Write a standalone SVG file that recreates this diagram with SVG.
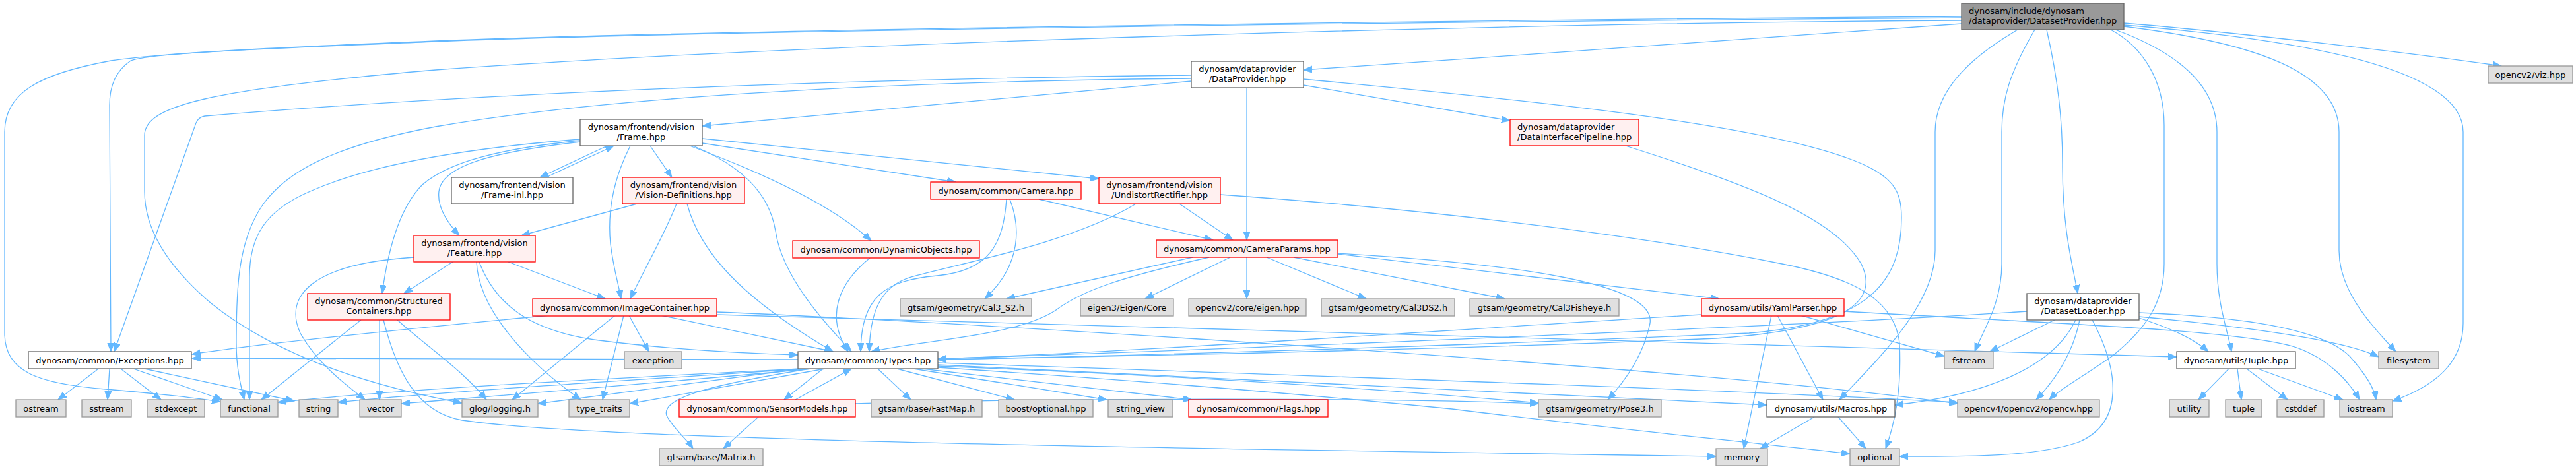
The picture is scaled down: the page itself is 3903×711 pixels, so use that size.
<svg xmlns="http://www.w3.org/2000/svg" width="3903" height="711" viewBox="0 0 3903 711">
<style>
text{font-family:"DejaVu Sans","Liberation Sans",sans-serif;font-size:13px;fill:#000}
.c{text-anchor:middle}
.w{fill:#fff;stroke:#666;stroke-width:1.3}
.r{fill:#fff0f0;stroke:#f00;stroke-width:1.3}
.g{fill:#e0e0e0;stroke:#999;stroke-width:1.3}
.k{fill:#999;stroke:#666;stroke-width:1.3}
#edges path{fill:none;stroke:#63b8ff;stroke-width:1.3;marker-end:url(#a)}
</style>
<defs>
<marker id="a" markerUnits="userSpaceOnUse" markerWidth="14" markerHeight="11" refX="13" refY="5" orient="auto"><path d="M0,0 L13,5 L0,10 z" fill="#63b8ff" stroke="#63b8ff" stroke-width="1"/></marker>
</defs>
<rect width="3903" height="711" fill="#fff"/>
<g id="edges">
<path d="M2972,36 C2600,60 2300,85 1975,106"/>
<path d="M2972,27 C2300,32 1100,45 660,63 C400,74 230,80 198,92 C175,108 166,130 166,160 L168,533"/>
<path d="M2972,25 C2300,30 1100,44 660,62 C420,72 250,80 168,92 C60,112 7,140 7,200 L7,505 C7,565 60,582 160,590 C230,596 290,602 334,609"/>
<path d="M2972,31 C2400,34 1300,60 660,106 C320,135 219,160 219,205 L219,290 C219,345 250,400 320,460 C420,540 560,585 700,611"/>
<path d="M3218,35 C3400,50 3650,80 3790,100"/>
<path d="M3198,45 C3245,70 3279,120 3279,190 L3279,400 C3279,460 3250,500 3200,540 C3150,575 3118,592 3105,606"/>
<path d="M3205,45 C3300,80 3359,130 3359,200 L3359,400 C3359,460 3375,500 3381,533"/>
<path d="M3218,40 C3420,65 3544,110 3544,200 L3544,380 C3544,440 3590,490 3630,533"/>
<path d="M3218,38 C3520,62 3732,110 3732,200 L3732,490 C3732,550 3690,585 3625,608"/>
<path d="M3057,45 C2980,90 2932,140 2932,200 L2932,380 C2932,460 2850,540 2787,606"/>
<path d="M3083,45 C3045,110 3033,150 3033,200 L3033,400 C3033,460 3005,500 2992,533"/>
<path d="M3101,45 C3118,120 3125,180 3125,250 C3125,350 3140,400 3148,445"/>
<path d="M1805,123 C1500,150 1250,175 1064,191"/>
<path d="M1805,114 C1400,118 800,135 310,176 C300,178 297,185 295,192 L173,533"/>
<path d="M1805,119 C1300,124 900,150 660,192 C500,222 430,262 395,315 C360,370 358,440 358,520 C358,560 365,585 370,606"/>
<path d="M1889,133 L1889,364"/>
<path d="M1975,129 L2288,183"/>
<path d="M1975,120 C2300,150 2650,185 2800,240 C2870,265 2881,290 2881,330 C2881,420 2840,490 2650,505 C2200,525 1700,540 1421,545"/>
<path d="M920,221 L818,269"/>
<path d="M827,269 L930,221"/>
<path d="M985,221 L1018,269"/>
<path d="M879,215 C750,230 670,250 665,290 C662,315 680,340 696,357"/>
<path d="M879,213 C760,225 680,245 640,280 C600,320 585,400 579,445"/>
<path d="M879,211 C700,225 560,250 470,290 C400,320 378,360 378,420 L378,606"/>
<path d="M955,221 C930,270 920,320 925,370 C930,410 937,430 941,453"/>
<path d="M1050,221 C1120,250 1165,290 1175,350 C1185,420 1250,490 1290,533"/>
<path d="M1064,217 L1448,276"/>
<path d="M1064,210 L1665,271"/>
<path d="M1045,221 C1150,260 1260,310 1320,365"/>
<path d="M965,309 L790,357"/>
<path d="M1025,309 C1005,360 975,410 955,453"/>
<path d="M1041,309 C1060,380 1120,450 1262,533"/>
<path d="M686,397 L612,445"/>
<path d="M770,397 L917,453"/>
<path d="M722,397 C725,470 800,550 880,606"/>
<path d="M726,397 C750,460 800,500 900,515 C1000,528 1100,535 1209,538"/>
<path d="M627,390 C470,400 430,450 455,505 C480,550 520,580 553,606"/>
<path d="M547,485 L396,606"/>
<path d="M575,485 L575,606"/>
<path d="M602,485 C640,520 700,560 737,606"/>
<path d="M581,485 C600,560 630,625 700,637 C900,668 1800,680 2600,692"/>
<path d="M833,478 C600,500 400,520 291,537"/>
<path d="M932,478 L776,606"/>
<path d="M945,478 L913,606"/>
<path d="M953,478 L983,533"/>
<path d="M1001,478 L1262,533"/>
<path d="M1086,473 C1500,490 2600,560 2966,612"/>
<path d="M1086,477 C1700,500 2800,520 3298,541"/>
<path d="M1209,545 L291,543"/>
<path d="M1212,559 C900,575 600,590 421,610"/>
<path d="M1220,559 C900,580 650,595 512,610"/>
<path d="M1230,559 C950,585 750,600 608,612"/>
<path d="M1215,559 L815,612"/>
<path d="M1250,559 L954,612"/>
<path d="M1247,559 L1188,606"/>
<path d="M1205,606 L1290,559"/>
<path d="M1227,559 C1100,580 1000,600 1010,630 C1020,650 1040,665 1050,680"/>
<path d="M1149,632 L1096,680"/>
<path d="M1330,559 L1380,606"/>
<path d="M1359,559 L1537,606"/>
<path d="M1384,559 L1677,606"/>
<path d="M1397,559 L1806,606"/>
<path d="M1421,555 C1800,570 2100,590 2331,611"/>
<path d="M1421,557 C1700,575 1950,595 2200,620 C2400,645 2600,665 2803,688"/>
<path d="M1421,553 C2000,580 2400,600 2677,614"/>
<path d="M1421,550 C2000,570 2600,590 2966,610"/>
<path d="M1296,612 C1600,603 2100,603 2331,612"/>
<path d="M1530,302 C1545,340 1550,400 1492,453"/>
<path d="M1525,302 C1520,370 1500,410 1420,418 C1340,425 1305,450 1304,533"/>
<path d="M1574,302 L1838,364"/>
<path d="M1787,309 L1868,364"/>
<path d="M1721,309 C1620,370 1450,400 1380,420 C1330,435 1318,480 1317,533"/>
<path d="M1849,295 C2200,320 2500,360 2700,400 C2800,420 2870,450 2878,520 C2882,600 2868,650 2857,680"/>
<path d="M1318,391 C1270,430 1250,480 1285,533"/>
<path d="M1807,390 L1525,453"/>
<path d="M1832,390 C1700,420 1640,440 1600,470 C1540,510 1400,515 1320,533"/>
<path d="M1864,390 L1735,453"/>
<path d="M1889,390 L1889,453"/>
<path d="M1919,390 L2070,453"/>
<path d="M1960,390 L2280,453"/>
<path d="M2027,385 L2605,453"/>
<path d="M2027,384 C2300,400 2510,430 2500,490 C2490,540 2460,580 2436,606"/>
<path d="M2463,221 C2650,280 2780,330 2820,400 C2850,460 2790,500 2600,513 C2200,530 1700,540 1421,545"/>
<path d="M2684,478 L2642,680"/>
<path d="M2693,478 L2762,606"/>
<path d="M2728,478 L2946,540"/>
<path d="M2794,472 C3100,490 3400,500 3480,527 C3530,545 3560,580 3575,606"/>
<path d="M2578,477 C2200,500 1700,535 1421,544"/>
<path d="M3113,485 L3015,533"/>
<path d="M3145,485 C3110,560 3000,600 2871,614"/>
<path d="M3151,485 C3140,540 3110,580 3085,606"/>
<path d="M3170,485 C3210,560 3220,640 3150,670 C3080,695 2950,692 2878,692"/>
<path d="M3071,472 C2800,490 2000,525 1421,544"/>
<path d="M3241,474 C3400,480 3520,500 3560,540 C3585,568 3598,590 3600,606"/>
<path d="M3241,480 C3400,495 3550,515 3604,541"/>
<path d="M3241,482 C3280,495 3320,510 3346,533"/>
<path d="M3377,559 L3331,606"/>
<path d="M3390,559 L3396,606"/>
<path d="M3404,559 L3466,606"/>
<path d="M3421,559 L3550,606"/>
<path d="M2749,632 L2667,680"/>
<path d="M2785,632 L2827,680"/>
<path d="M149,559 L88,606"/>
<path d="M166,559 L163,606"/>
<path d="M183,559 L244,606"/>
<path d="M202,559 L337,606"/>
<path d="M219,559 L446,608"/>
</g>
<g id="n_root"><rect class="k" x="2972" y="5" width="246" height="40"/><text x="2983" y="20.5">dynosam/include/dynosam</text><text x="2983" y="35.5">/dataprovider/DatasetProvider.hpp</text></g>
<g id="n_dataprovider"><rect class="w" x="1805" y="93" width="170" height="40"/><text class="c" x="1890" y="108.5">dynosam/dataprovider</text><text class="c" x="1890" y="123.5">/DataProvider.hpp</text></g>
<g id="n_dip"><rect class="r" x="2288" y="181" width="195" height="40"/><text x="2299" y="196.5">dynosam/dataprovider</text><text x="2299" y="211.5">/DataInterfacePipeline.hpp</text></g>
<g id="n_frame"><rect class="w" x="879" y="181" width="185" height="40"/><text class="c" x="971.5" y="196.5">dynosam/frontend/vision</text><text class="c" x="971.5" y="211.5">/Frame.hpp</text></g>
<g id="n_frameinl"><rect class="w" x="684" y="269" width="184" height="40"/><text class="c" x="776" y="284.5">dynosam/frontend/vision</text><text class="c" x="776" y="299.5">/Frame-inl.hpp</text></g>
<g id="n_visiondef"><rect class="r" x="943" y="269" width="185" height="40"/><text class="c" x="1035.5" y="284.5">dynosam/frontend/vision</text><text class="c" x="1035.5" y="299.5">/Vision-Definitions.hpp</text></g>
<g id="n_camera"><rect class="r" x="1410" y="276" width="228" height="26"/><text class="c" x="1524" y="293.5">dynosam/common/Camera.hpp</text></g>
<g id="n_undistort"><rect class="r" x="1665" y="269" width="184" height="40"/><text class="c" x="1757" y="284.5">dynosam/frontend/vision</text><text class="c" x="1757" y="299.5">/UndistortRectifier.hpp</text></g>
<g id="n_feature"><rect class="r" x="627" y="357" width="184" height="40"/><text class="c" x="719" y="372.5">dynosam/frontend/vision</text><text class="c" x="719" y="387.5">/Feature.hpp</text></g>
<g id="n_dynobj"><rect class="r" x="1201" y="365" width="283" height="26"/><text class="c" x="1342.5" y="382.5">dynosam/common/DynamicObjects.hpp</text></g>
<g id="n_camparams"><rect class="r" x="1752" y="364" width="275" height="26"/><text class="c" x="1889.5" y="381.5">dynosam/common/CameraParams.hpp</text></g>
<g id="n_sc"><rect class="r" x="466" y="445" width="216" height="40"/><text class="c" x="574" y="460.5">dynosam/common/Structured</text><text class="c" x="574" y="475.5">Containers.hpp</text></g>
<g id="n_imgc"><rect class="r" x="807" y="453" width="279" height="26"/><text class="c" x="946.5" y="470.5">dynosam/common/ImageContainer.hpp</text></g>
<g id="n_cal3s2"><rect class="g" x="1364" y="453" width="199" height="26"/><text class="c" x="1463.5" y="470.5">gtsam/geometry/Cal3_S2.h</text></g>
<g id="n_eigen"><rect class="g" x="1637" y="453" width="141" height="26"/><text class="c" x="1707.5" y="470.5">eigen3/Eigen/Core</text></g>
<g id="n_cveigen"><rect class="g" x="1801" y="453" width="178" height="26"/><text class="c" x="1890" y="470.5">opencv2/core/eigen.hpp</text></g>
<g id="n_cal3ds2"><rect class="g" x="2002" y="453" width="202" height="26"/><text class="c" x="2103" y="470.5">gtsam/geometry/Cal3DS2.h</text></g>
<g id="n_fisheye"><rect class="g" x="2227" y="453" width="226" height="26"/><text class="c" x="2340" y="470.5">gtsam/geometry/Cal3Fisheye.h</text></g>
<g id="n_yaml"><rect class="r" x="2578" y="453" width="216" height="26"/><text class="c" x="2686" y="470.5">dynosam/utils/YamlParser.hpp</text></g>
<g id="n_datasetloader"><rect class="w" x="3071" y="445" width="170" height="40"/><text class="c" x="3156" y="460.5">dynosam/dataprovider</text><text class="c" x="3156" y="475.5">/DatasetLoader.hpp</text></g>
<g id="n_exceptions"><rect class="w" x="43" y="533" width="247" height="26"/><text class="c" x="166.5" y="550.5">dynosam/common/Exceptions.hpp</text></g>
<g id="n_exception"><rect class="g" x="946" y="533" width="87" height="26"/><text class="c" x="989.5" y="550.5">exception</text></g>
<g id="n_types"><rect class="w" x="1209" y="533" width="212" height="26"/><text class="c" x="1315" y="550.5">dynosam/common/Types.hpp</text></g>
<g id="n_fstream"><rect class="g" x="2946" y="533" width="74" height="26"/><text class="c" x="2983" y="550.5">fstream</text></g>
<g id="n_tuplehpp"><rect class="w" x="3298" y="533" width="180" height="26"/><text class="c" x="3388" y="550.5">dynosam/utils/Tuple.hpp</text></g>
<g id="n_filesystem"><rect class="g" x="3604" y="533" width="91" height="26"/><text class="c" x="3649.5" y="550.5">filesystem</text></g>
<g id="n_ostream"><rect class="g" x="24" y="606" width="76" height="26"/><text class="c" x="62" y="623.5">ostream</text></g>
<g id="n_sstream"><rect class="g" x="124" y="606" width="75" height="26"/><text class="c" x="161.5" y="623.5">sstream</text></g>
<g id="n_stdexcept"><rect class="g" x="223" y="606" width="87" height="26"/><text class="c" x="266.5" y="623.5">stdexcept</text></g>
<g id="n_functional"><rect class="g" x="334" y="606" width="87" height="26"/><text class="c" x="377.5" y="623.5">functional</text></g>
<g id="n_string"><rect class="g" x="453" y="606" width="59" height="26"/><text class="c" x="482.5" y="623.5">string</text></g>
<g id="n_vector"><rect class="g" x="545" y="606" width="63" height="26"/><text class="c" x="576.5" y="623.5">vector</text></g>
<g id="n_glog"><rect class="g" x="700" y="606" width="115" height="26"/><text class="c" x="757.5" y="623.5">glog/logging.h</text></g>
<g id="n_typetraits"><rect class="g" x="862" y="606" width="92" height="26"/><text class="c" x="908" y="623.5">type_traits</text></g>
<g id="n_sensormodels"><rect class="r" x="1029" y="606" width="267" height="26"/><text class="c" x="1162.5" y="623.5">dynosam/common/SensorModels.hpp</text></g>
<g id="n_fastmap"><rect class="g" x="1320" y="606" width="168" height="26"/><text class="c" x="1404" y="623.5">gtsam/base/FastMap.h</text></g>
<g id="n_boostopt"><rect class="g" x="1513" y="606" width="143" height="26"/><text class="c" x="1584.5" y="623.5">boost/optional.hpp</text></g>
<g id="n_stringview"><rect class="g" x="1679" y="606" width="98" height="26"/><text class="c" x="1728" y="623.5">string_view</text></g>
<g id="n_flags"><rect class="r" x="1801" y="606" width="211" height="26"/><text class="c" x="1906.5" y="623.5">dynosam/common/Flags.hpp</text></g>
<g id="n_pose3"><rect class="g" x="2331" y="606" width="186" height="26"/><text class="c" x="2424" y="623.5">gtsam/geometry/Pose3.h</text></g>
<g id="n_macros"><rect class="w" x="2677" y="606" width="194" height="26"/><text class="c" x="2774" y="623.5">dynosam/utils/Macros.hpp</text></g>
<g id="n_opencv"><rect class="g" x="2966" y="606" width="215" height="26"/><text class="c" x="3073.5" y="623.5">opencv4/opencv2/opencv.hpp</text></g>
<g id="n_utility"><rect class="g" x="3287" y="606" width="60" height="26"/><text class="c" x="3317" y="623.5">utility</text></g>
<g id="n_tuple"><rect class="g" x="3372" y="606" width="55" height="26"/><text class="c" x="3399.5" y="623.5">tuple</text></g>
<g id="n_cstddef"><rect class="g" x="3450" y="606" width="71" height="26"/><text class="c" x="3485.5" y="623.5">cstddef</text></g>
<g id="n_iostream"><rect class="g" x="3545" y="606" width="80" height="26"/><text class="c" x="3585" y="623.5">iostream</text></g>
<g id="n_memory"><rect class="g" x="2600" y="680" width="78" height="26"/><text class="c" x="2639" y="697.5">memory</text></g>
<g id="n_optional"><rect class="g" x="2803" y="680" width="75" height="26"/><text class="c" x="2840.5" y="697.5">optional</text></g>
<g id="n_matrix"><rect class="g" x="999" y="680" width="157" height="26"/><text class="c" x="1077.5" y="697.5">gtsam/base/Matrix.h</text></g>
<g id="n_viz"><rect class="g" x="3770" y="100" width="128" height="26"/><text class="c" x="3834" y="117.5">opencv2/viz.hpp</text></g>
</svg>
